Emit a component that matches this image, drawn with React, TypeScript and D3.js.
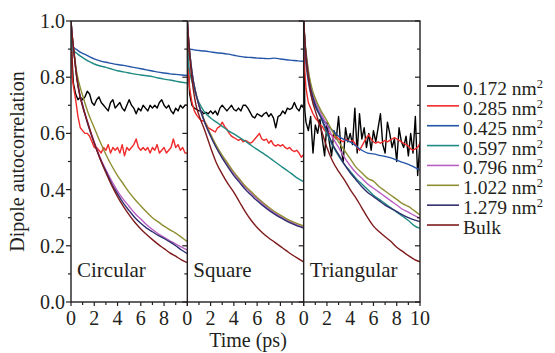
import React from 'react';
import * as d3 from 'd3';

// ---------- time grids (ps) ----------
const T_COARSE = [0, 0.1, 0.25, 0.5, 0.75, 1, 1.5, 2, 2.5, 3, 3.5, 4, 4.5, 5, 5.5, 6, 6.5, 7, 7.5, 8, 8.5, 9, 9.5, 10];
const T_FINE = [0, 0.1, 0.2, 0.4, 0.6, 0.8, 1, 1.2, 1.4, 1.6, 1.8, 2, 2.2, 2.4, 2.6, 2.8, 3, 3.2, 3.4, 3.6, 3.8, 4, 4.2, 4.4, 4.6, 4.8, 5, 5.2, 5.4, 5.6, 5.8, 6, 6.2, 6.4, 6.6, 6.8, 7, 7.2, 7.4, 7.6, 7.8, 8, 8.2, 8.4, 8.6, 8.8, 9, 9.2, 9.4, 9.6, 9.8, 10];

// ---------- legend ----------
const SERIES_NUM = ['0.172', '0.285', '0.425', '0.597', '0.796', '1.022', '1.279', 'Bulk'];
const SERIES_COLORS = ['#000000', '#f02a2a', '#2455a8', '#1f8a84', '#b95fc2', '#8e8e32', '#2f2f70', '#7e1a1c'];
const PANEL_NAMES = ['Circular', 'Square', 'Triangular'];
const Y_TICK_LABELS = ['0.0', '0.2', '0.4', '0.6', '0.8', '1.0'];
const X_TICK_LABELS = ['0', '2', '4', '6', '8'];

// ---------- Circular ----------
const circ172 = [1.0, 0.86, 0.78, 0.74, 0.72, 0.73, 0.72, 0.73, 0.75, 0.74, 0.71, 0.70, 0.72, 0.73, 0.71, 0.70, 0.69, 0.68, 0.71, 0.72, 0.69, 0.70, 0.71, 0.69, 0.68, 0.70, 0.72, 0.70, 0.69, 0.67, 0.69, 0.68, 0.70, 0.69, 0.68, 0.70, 0.69, 0.70, 0.69, 0.71, 0.72, 0.70, 0.69, 0.70, 0.68, 0.67, 0.69, 0.68, 0.70, 0.69, 0.70, 0.70];
const circ285 = [1.0, 0.80, 0.77, 0.72, 0.66, 0.62, 0.61, 0.60, 0.60, 0.59, 0.57, 0.55, 0.55, 0.54, 0.53, 0.55, 0.54, 0.56, 0.53, 0.55, 0.54, 0.55, 0.53, 0.56, 0.52, 0.55, 0.54, 0.55, 0.56, 0.58, 0.55, 0.54, 0.55, 0.54, 0.55, 0.53, 0.55, 0.54, 0.56, 0.53, 0.54, 0.55, 0.53, 0.54, 0.55, 0.58, 0.55, 0.56, 0.54, 0.55, 0.53, 0.53];
const circ425 = [1.0, 0.915, 0.905, 0.898, 0.89, 0.885, 0.875, 0.865, 0.858, 0.853, 0.849, 0.845, 0.842, 0.838, 0.834, 0.83, 0.826, 0.822, 0.818, 0.815, 0.812, 0.81, 0.808, 0.806];
const circ597 = [1.0, 0.90, 0.893, 0.885, 0.877, 0.87, 0.857, 0.847, 0.84, 0.835, 0.829, 0.823, 0.819, 0.815, 0.811, 0.808, 0.805, 0.802, 0.797, 0.793, 0.79, 0.786, 0.782, 0.779];
const circ796 = [1.0, 0.95, 0.89, 0.80, 0.74, 0.70, 0.63, 0.57, 0.515, 0.47, 0.43, 0.395, 0.365, 0.34, 0.315, 0.295, 0.275, 0.258, 0.243, 0.23, 0.218, 0.206, 0.195, 0.185];
const circ1022 = [1.0, 0.95, 0.895, 0.815, 0.77, 0.735, 0.67, 0.62, 0.57, 0.525, 0.485, 0.45, 0.42, 0.39, 0.365, 0.342, 0.32, 0.30, 0.285, 0.27, 0.257, 0.245, 0.23, 0.215];
const circ1279 = [1.0, 0.95, 0.89, 0.80, 0.74, 0.70, 0.625, 0.565, 0.51, 0.465, 0.42, 0.385, 0.352, 0.325, 0.30, 0.28, 0.263, 0.25, 0.237, 0.226, 0.214, 0.20, 0.185, 0.172];
const circBulk = [1.0, 0.95, 0.89, 0.795, 0.735, 0.695, 0.63, 0.565, 0.51, 0.46, 0.415, 0.375, 0.34, 0.31, 0.283, 0.26, 0.24, 0.222, 0.205, 0.19, 0.175, 0.163, 0.15, 0.14];

// ---------- Square ----------
const sq172 = [1.0, 0.82, 0.74, 0.70, 0.69, 0.685, 0.68, 0.68, 0.67, 0.675, 0.67, 0.68, 0.67, 0.68, 0.665, 0.69, 0.70, 0.69, 0.68, 0.69, 0.70, 0.685, 0.68, 0.69, 0.68, 0.70, 0.70, 0.69, 0.675, 0.66, 0.655, 0.67, 0.665, 0.66, 0.67, 0.675, 0.66, 0.67, 0.655, 0.62, 0.66, 0.665, 0.68, 0.67, 0.69, 0.685, 0.69, 0.71, 0.69, 0.68, 0.70, 0.69];
const sq285 = [1.0, 0.82, 0.76, 0.71, 0.68, 0.665, 0.655, 0.645, 0.645, 0.635, 0.62, 0.615, 0.61, 0.605, 0.62, 0.625, 0.64, 0.625, 0.615, 0.60, 0.59, 0.585, 0.58, 0.575, 0.58, 0.57, 0.575, 0.57, 0.565, 0.57, 0.58, 0.59, 0.60, 0.58, 0.575, 0.58, 0.565, 0.575, 0.56, 0.555, 0.56, 0.555, 0.56, 0.55, 0.545, 0.55, 0.54, 0.535, 0.54, 0.53, 0.515, 0.525];
const sq425 = [1.0, 0.905, 0.90, 0.898, 0.896, 0.895, 0.893, 0.89, 0.887, 0.885, 0.882, 0.878, 0.874, 0.871, 0.87, 0.868, 0.867, 0.866, 0.868, 0.865, 0.862, 0.86, 0.858, 0.857];
const sq597 = [1.0, 0.85, 0.81, 0.77, 0.735, 0.71, 0.675, 0.655, 0.64, 0.625, 0.61, 0.598, 0.585, 0.572, 0.557, 0.543, 0.53, 0.515, 0.50, 0.485, 0.47, 0.455, 0.44, 0.428];
const sq796 = [1.0, 0.94, 0.87, 0.79, 0.74, 0.70, 0.64, 0.593, 0.552, 0.517, 0.487, 0.457, 0.432, 0.407, 0.387, 0.367, 0.349, 0.332, 0.317, 0.304, 0.292, 0.282, 0.273, 0.266];
const sq1022 = [1.0, 0.94, 0.87, 0.79, 0.74, 0.70, 0.642, 0.597, 0.557, 0.522, 0.492, 0.462, 0.437, 0.412, 0.392, 0.372, 0.354, 0.337, 0.322, 0.309, 0.297, 0.287, 0.278, 0.271];
const sq1279 = [1.0, 0.94, 0.87, 0.79, 0.74, 0.70, 0.638, 0.59, 0.548, 0.512, 0.48, 0.45, 0.425, 0.40, 0.38, 0.36, 0.343, 0.327, 0.313, 0.30, 0.289, 0.279, 0.27, 0.263];
const sqBulk = [1.0, 0.93, 0.85, 0.76, 0.70, 0.665, 0.61, 0.55, 0.495, 0.455, 0.42, 0.39, 0.355, 0.32, 0.29, 0.265, 0.245, 0.228, 0.213, 0.198, 0.183, 0.168, 0.155, 0.143];

// ---------- Triangular ----------
const tri172 = [1.0, 0.68, 0.64, 0.61, 0.66, 0.53, 0.63, 0.60, 0.65, 0.58, 0.52, 0.64, 0.57, 0.52, 0.61, 0.58, 0.66, 0.55, 0.50, 0.62, 0.57, 0.60, 0.56, 0.69, 0.53, 0.67, 0.58, 0.62, 0.55, 0.60, 0.54, 0.61, 0.57, 0.62, 0.67, 0.56, 0.53, 0.64, 0.60, 0.55, 0.58, 0.50, 0.62, 0.57, 0.55, 0.59, 0.52, 0.60, 0.53, 0.66, 0.45, 0.57];
const tri285 = [1.0, 0.82, 0.76, 0.71, 0.69, 0.67, 0.655, 0.645, 0.63, 0.625, 0.61, 0.605, 0.60, 0.595, 0.585, 0.59, 0.58, 0.575, 0.57, 0.58, 0.575, 0.57, 0.575, 0.565, 0.55, 0.54, 0.555, 0.57, 0.585, 0.595, 0.58, 0.57, 0.565, 0.57, 0.565, 0.57, 0.575, 0.57, 0.575, 0.58, 0.585, 0.58, 0.575, 0.57, 0.565, 0.56, 0.555, 0.545, 0.54, 0.545, 0.55, 0.565];
const tri425 = [1.0, 0.90, 0.83, 0.76, 0.72, 0.695, 0.66, 0.63, 0.61, 0.59, 0.578, 0.57, 0.555, 0.54, 0.53, 0.527, 0.522, 0.518, 0.513, 0.505, 0.497, 0.49, 0.48, 0.47];
const tri597 = [1.0, 0.93, 0.86, 0.78, 0.735, 0.705, 0.655, 0.60, 0.555, 0.52, 0.49, 0.465, 0.44, 0.42, 0.40, 0.38, 0.365, 0.35, 0.335, 0.32, 0.305, 0.29, 0.272, 0.262];
const tri796 = [1.0, 0.93, 0.865, 0.79, 0.745, 0.715, 0.67, 0.63, 0.585, 0.55, 0.515, 0.485, 0.46, 0.44, 0.42, 0.405, 0.39, 0.375, 0.36, 0.345, 0.33, 0.32, 0.308, 0.298];
const tri1022 = [1.0, 0.935, 0.875, 0.80, 0.755, 0.725, 0.68, 0.645, 0.605, 0.57, 0.54, 0.51, 0.48, 0.46, 0.44, 0.43, 0.41, 0.395, 0.38, 0.365, 0.35, 0.34, 0.325, 0.31];
const tri1279 = [1.0, 0.93, 0.86, 0.78, 0.735, 0.70, 0.655, 0.61, 0.56, 0.525, 0.49, 0.46, 0.435, 0.41, 0.39, 0.375, 0.36, 0.345, 0.333, 0.322, 0.31, 0.30, 0.292, 0.286];
const triBulk = [1.0, 0.93, 0.85, 0.77, 0.715, 0.68, 0.615, 0.55, 0.50, 0.465, 0.435, 0.40, 0.37, 0.335, 0.30, 0.27, 0.25, 0.232, 0.215, 0.195, 0.18, 0.165, 0.152, 0.143];

const CIRCULAR = [circ172, circ285, circ425, circ597, circ796, circ1022, circ1279, circBulk];
const SQUARE = [sq172, sq285, sq425, sq597, sq796, sq1022, sq1279, sqBulk];
const TRIANGULAR = [tri172, tri285, tri425, tri597, tri796, tri1022, tri1279, triBulk];
const PANEL_DATA = [CIRCULAR, SQUARE, TRIANGULAR];

// ---------- layout ----------
const W = 555;
const H = 353;
const LEFT = 71;
const RIGHT = 420;
const TOP = 21;
const BOTTOM = 302;
const FONT = 'Liberation Serif';
const INK = '#231f20';

export default function App() {
  const pw = (RIGHT - LEFT) / 3;
  const y = d3.scaleLinear().domain([0, 1]).range([BOTTOM, TOP]);
  const yTicks = d3.range(0, 11).map((i) => i / 10);
  const xTicks = d3.range(0, 11);

  const panels = PANEL_NAMES.map((name, pi) => {
    const x0 = LEFT + pi * pw;
    const x = d3.scaleLinear().domain([0, 10]).range([x0, x0 + pw]);
    return { name, x, x0, data: PANEL_DATA[pi] };
  });

  const txt = { fontFamily: FONT };

  return (
    <svg width={W} height={H} style={{ position: 'absolute', left: 0, top: 0, background: '#fff', fontFamily: FONT }}>
      <defs>
        {panels.map((p, pi) => (
          <clipPath id={`clip${pi}`} key={pi}>
            <rect x={p.x0} y={TOP - 1} width={pw} height={BOTTOM - TOP + 1} />
          </clipPath>
        ))}
      </defs>

      {/* data */}
      {panels.map((p, pi) => (
        <g key={pi} clipPath={`url(#clip${pi})`}>
          {p.data.map((vals, si) => {
            const noisy = vals.length === T_FINE.length;
            const ts = noisy ? T_FINE : T_COARSE;
            const line = d3.line<number>()
              .x((_, i) => p.x(ts[i]))
              .y((v) => y(v))
              .curve(noisy ? d3.curveLinear : d3.curveMonotoneX);
            return (
              <path key={si} d={line(vals) || ''} fill="none" stroke={SERIES_COLORS[si]}
                strokeWidth={1.4} strokeLinejoin="round" />
            );
          })}
        </g>
      ))}

      {/* frame */}
      <rect x={LEFT} y={TOP} width={RIGHT - LEFT} height={BOTTOM - TOP} fill="none" stroke={INK} strokeWidth={1.4} />
      {[1, 2].map((k) => (
        <line key={k} x1={LEFT + k * pw} x2={LEFT + k * pw} y1={TOP} y2={BOTTOM} stroke={INK} strokeWidth={1.4} />
      ))}

      {/* y ticks: left axis outward */}
      {yTicks.map((v, i) => (
        <line key={`yl${i}`} x1={LEFT} x2={LEFT - (i % 2 === 0 ? 5 : 3)} y1={y(v)} y2={y(v)} stroke={INK} strokeWidth={1.2} />
      ))}
      {/* y ticks on the right edges of each panel, pointing left */}
      {[1, 2, 3].map((k) =>
        yTicks.map((v, i) => (
          <line key={`yr${k}-${i}`} x1={LEFT + k * pw} x2={LEFT + k * pw - (i % 2 === 0 ? 5 : 3)}
            y1={y(v)} y2={y(v)} stroke={INK} strokeWidth={1.2} />
        ))
      )}
      {/* x ticks */}
      {panels.map((p, pi) =>
        xTicks.map((t) => (
          <line key={`xt${pi}-${t}`} x1={p.x(t)} x2={p.x(t)} y1={BOTTOM} y2={BOTTOM + (t % 2 === 0 ? 4 : 3)}
            stroke={INK} strokeWidth={1.2} />
        ))
      )}

      {/* y tick labels */}
      {Y_TICK_LABELS.map((lab, i) => (
        <text key={`yl${i}`} style={txt} x={LEFT - 6} y={y(i * 0.2)} dy="0.35em" textAnchor="end" fontSize={20} fill={INK}>
          {lab}
        </text>
      ))}
      {/* x tick labels */}
      {panels.map((p, pi) =>
        X_TICK_LABELS.map((lab) => (
          <text key={`xl${pi}-${lab}`} style={txt} x={p.x(+lab)} y={325} textAnchor="middle" fontSize={20} fill={INK}>
            {lab}
          </text>
        ))
      )}
      <text style={txt} x={panels[2].x(10)} y={325} textAnchor="middle" fontSize={20} fill={INK}>10</text>

      {/* axis titles */}
      <text style={txt} x={248} y={347} textAnchor="middle" fontSize={20} fill={INK}>Time (ps)</text>
      <text style={txt} transform={`translate(24, ${(TOP + BOTTOM) / 2}) rotate(-90)`} textAnchor="middle" fontSize={20} fill={INK}>
        Dipole autocorrelation
      </text>

      {/* panel names */}
      {panels.map((p, pi) => (
        <text key={`pn${pi}`} style={txt} x={p.x0 + 6} y={277} fontSize={21} fill={INK}>{p.name}</text>
      ))}

      {/* legend */}
      {SERIES_NUM.map((lab, i) => {
        const ly = 86 + i * 19.86;
        return (
          <g key={`lg${i}`}>
            <line x1={427} x2={459} y1={ly} y2={ly} stroke={SERIES_COLORS[i]} strokeWidth={1.6} />
            <text style={txt} x={463} y={ly + 9} fontSize={19.5} fill={INK}>
              {lab === 'Bulk' ? 'Bulk' : (
                <>
                  {lab} nm<tspan dy={-7} fontSize={12.5}>2</tspan>
                </>
              )}
            </text>
          </g>
        );
      })}
    </svg>
  );
}
